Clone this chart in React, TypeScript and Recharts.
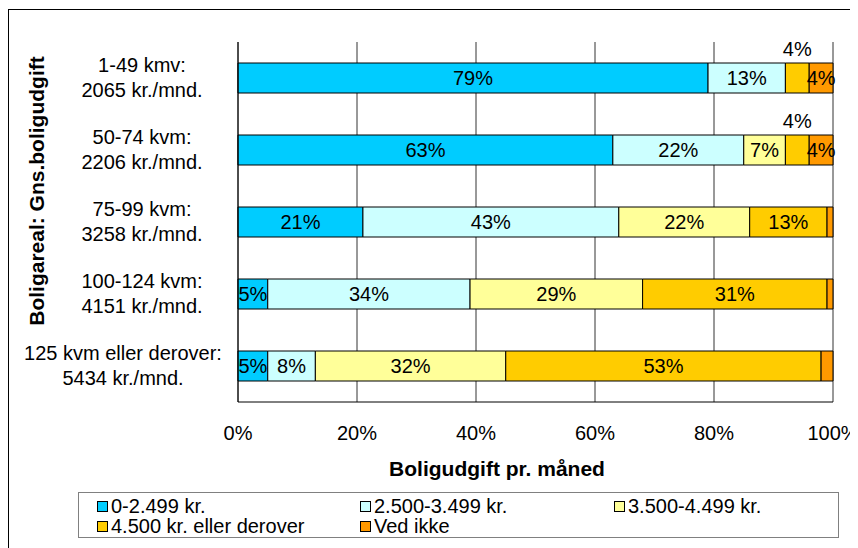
import React from "react"
import {
  BarChart,
  Bar,
  XAxis,
  YAxis,
  CartesianGrid,
  Legend,
  LabelList,
  Label,
} from "recharts"

// Boligareal (kategori) og gennemsnitlig boligudgift
const areaLabels = ["1-49 kmv:", "50-74 kvm:", "75-99 kvm:", "100-124 kvm:", "125 kvm eller derover:"]
const costLabels = ["2065 kr./mnd.", "2206 kr./mnd.", "3258 kr./mnd.", "4151 kr./mnd.", "5434 kr./mnd."]

// andel i procent pr. udgiftsgruppe
const under2500 = [79, 63, 21, 5, 5]
const from2500 = [13, 22, 43, 34, 8]
const from3500 = [0, 7, 22, 29, 32]
const over4500 = [4, 4, 13, 31, 53]
const dontKnow = [4, 4, 1, 1, 2]

const percentTicks = [0, 20, 40, 60, 80, 100]

const series = [
  { key: "a", name: "0-2.499 kr.", color: "#00CCFF", values: under2500 },
  { key: "b", name: "2.500-3.499 kr.", color: "#CCFFFF", values: from2500 },
  { key: "c", name: "3.500-4.499 kr.", color: "#FFFF99", values: from3500 },
  { key: "d", name: "4.500 kr. eller derover", color: "#FFCC00", values: over4500 },
  { key: "e", name: "Ved ikke", color: "#FF9900", values: dontKnow },
]

const data = areaLabels.map((name, i) => {
  const row: Record<string, string | number> = { name }
  series.forEach((s) => (row[s.key] = s.values[i]))
  return row
})

const FONT = "'Liberation Sans', Arial, sans-serif"

const CategoryTick = (props: any) => {
  const { y, payload, index } = props
  const first = String(payload.value)
  const second = costLabels[index] ?? ""
  const longest = Math.max(first.length, second.length)
  const cx = Math.min(133, 213 - (longest * 9) / 2)
  return (
    <g>
      <text x={cx} y={y - 6} textAnchor="middle" fontSize={20} fill="#000" fontFamily={FONT}>
        {first}
      </text>
      <text x={cx} y={y + 19} textAnchor="middle" fontSize={20} fill="#000" fontFamily={FONT}>
        {second}
      </text>
    </g>
  )
}

const makeLabel = (key: string) => (props: any) => {
  const { x, y, width, height, value } = props
  if (!value || value < 3) return null
  const above = key === "d" && value < 5
  const cx = x + width / 2
  const cy = above ? y - 14 : y + height / 2
  return (
    <text
      x={cx}
      y={cy}
      dy={7}
      textAnchor="middle"
      fontSize={20}
      fill="#000"
      fontFamily={FONT}
    >
      {value}%
    </text>
  )
}

const LegendBox = (props: any) => {
  const { payload = [] } = props
  return (
    <div
      style={{
        border: "1px solid #808080",
        boxSizing: "border-box",
        height: 46,
        padding: "3px 0 0 18px",
        display: "grid",
        gridTemplateColumns: "263px 254px 240px",
        rowGap: 0,
        fontFamily: FONT,
        fontSize: 20,
        lineHeight: "19px",
      }}
    >
      {payload.map((p: any) => (
        <div key={p.value} style={{ display: "flex", alignItems: "center" }}>
          <span
            style={{
              display: "inline-block",
              width: 9,
              height: 9,
              background: p.color,
              border: "1px solid #000",
              marginRight: 3,
            }}
          />
          <span>{p.value}</span>
        </div>
      ))}
    </div>
  )
}

const emptyTick = () => <g />

export default function App() {
  return (
    <div
      style={{
        width: 858,
        height: 540,
        border: "1px solid #000",
        marginTop: 1,
        position: "relative",
        fontFamily: FONT,
      }}
    >
      <BarChart
        width={858}
        height={540}
        data={data}
        layout="vertical"
        barSize={30}
        margin={{ top: 32, right: 34, bottom: 88, left: 0 }}
      >
        <CartesianGrid horizontal={false} stroke="#333" />
        <XAxis
          type="number"
          domain={[0, 100]}
          ticks={percentTicks}
          tickFormatter={(v) => `${v}%`}
          tickLine={false}
          tickSize={0}
          tickMargin={24}
          axisLine={{ stroke: "#000" }}
          height={60}
          tick={{ fill: "#000", fontSize: 20, fontFamily: FONT }}
        >
          <Label
            content={() => (
              <text
                x={488}
                y={466}
                textAnchor="middle"
                fontSize={21}
                fontWeight="bold"
                fill="#000"
                fontFamily={FONT}
              >
                Boligudgift pr. måned
              </text>
            )}
          />
        </XAxis>
        <XAxis
          xAxisId="top"
          orientation="top"
          type="number"
          domain={[0, 100]}
          ticks={percentTicks}
          height={0}
          tickSize={6}
          tick={emptyTick}
          stroke="#000"
        />
        <YAxis
          type="category"
          dataKey="name"
          width={229}
          tickLine={false}
          axisLine={{ stroke: "#000" }}
          tick={<CategoryTick />}
          interval={0}
        >
          <Label
            content={() => (
              <text
                transform="translate(35 181) rotate(-90)"
                textAnchor="middle"
                fontSize={21}
                fontWeight="bold"
                fill="#000"
                fontFamily={FONT}
              >
                Boligareal: Gns.boligudgift
              </text>
            )}
          />
        </YAxis>
        <YAxis
          yAxisId="right"
          orientation="right"
          type="number"
          domain={[0, 5]}
          ticks={[0, 1, 2, 3, 4, 5]}
          width={0}
          tickSize={7}
          tick={emptyTick}
          stroke="#000"
        />
        <Legend
          verticalAlign="middle"
          align="center"
          content={<LegendBox />}
          wrapperStyle={{ left: 69, top: 482, width: 761 }}
        />
        {series.map((s) => (
          <Bar
            key={s.key}
            dataKey={s.key}
            name={s.name}
            stackId="all"
            fill={s.color}
            stroke="#000"
            strokeWidth={1}
            isAnimationActive={false}
          >
            <LabelList dataKey={s.key} content={makeLabel(s.key)} />
          </Bar>
        ))}
      </BarChart>
    </div>
  )
}
